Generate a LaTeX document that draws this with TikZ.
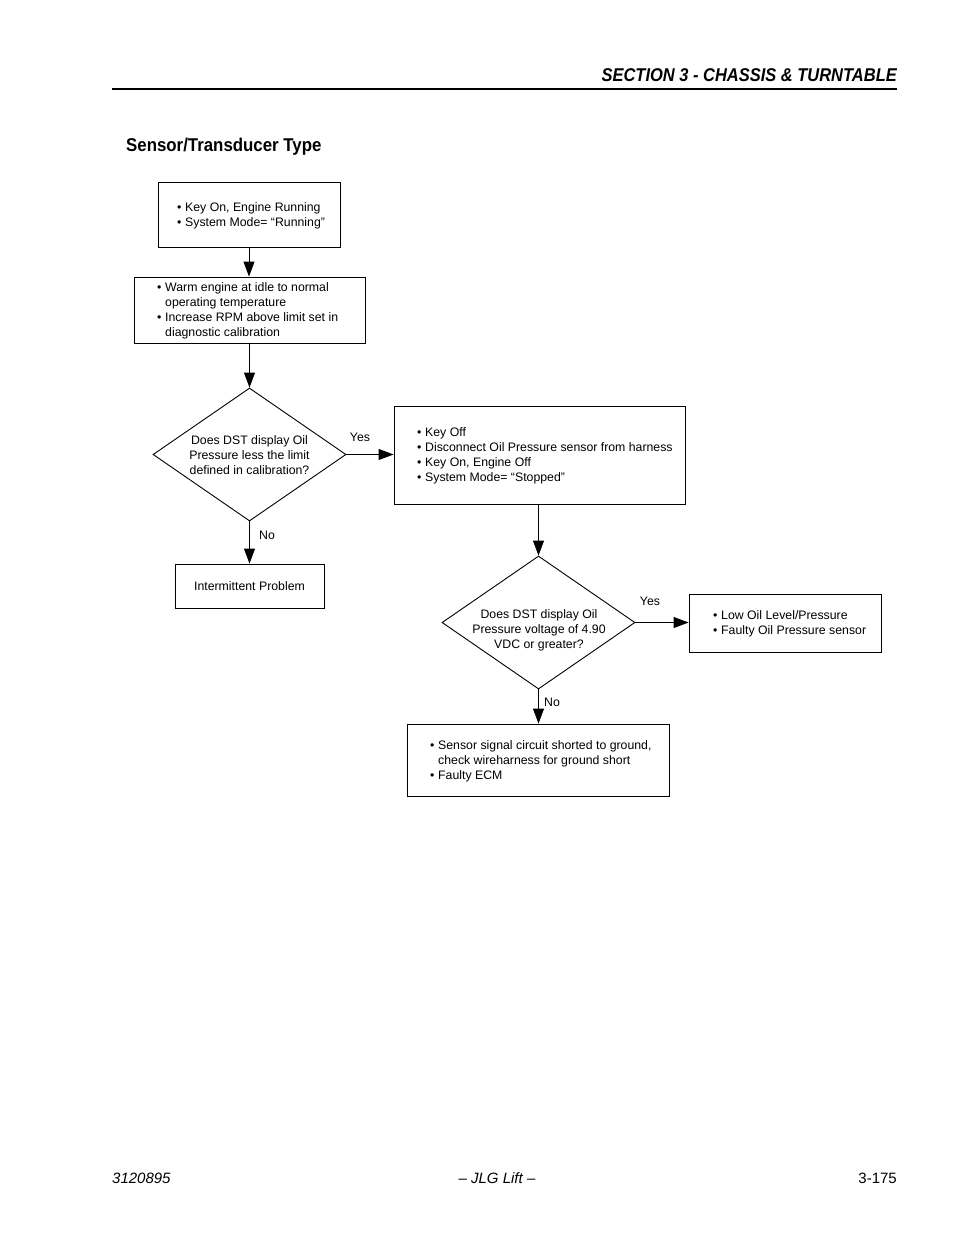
\documentclass[tikz,border=0pt]{standalone}
\usepackage{fontspec}
\setmainfont{Liberation Sans}
\usetikzlibrary{shapes.geometric,arrows.meta}
\newcommand\bul{\makebox[8pt][l]{•}}
\tikzset{
  box/.style={draw,line width=0.9pt,inner sep=0pt,rectangle},
  dia/.style={draw,line width=0.9pt,inner sep=0pt,diamond,minimum width=193pt,minimum height=133pt},
  txt/.style={inner sep=0pt,font=\fontsize{12.3}{15}\selectfont},
  arr/.style={line width=0.9pt,-{Triangle[length=15pt,width=11pt]}},
  lbl/.style={inner sep=0pt,font=\fontsize{12.3}{15}\selectfont}
}
\begin{document}
\begin{tikzpicture}[x=1pt,y=-1pt]
\useasboundingbox[fill=white] (0,0) rectangle (954,1235);
% header
\node[inner sep=0pt,anchor=base east,font=\fontsize{18.5}{22}\selectfont\bfseries\itshape] (hdr) at (897,81) {\scalebox{0.89}[1]{SECTION 3 - CHASSIS \& TURNTABLE}};
\draw[line width=1.2pt] (112,89) -- (897,89);
\node[inner sep=0pt,anchor=base west,font=\fontsize{18.5}{22}\selectfont\bfseries] (title) at (126,151) {\scalebox{0.91}[1]{Sensor/Transducer Type}};
% boxes
\node[box,minimum width=182pt,minimum height=65pt] (b1) at (249,214.5) {};
\node[box,minimum width=231pt,minimum height=66pt] (b2) at (249.5,310) {};
\node[dia] (d1) at (249.5,454.5) {};
\node[box,minimum width=291pt,minimum height=98pt] (b3) at (539.5,455) {};
\node[box,minimum width=149pt,minimum height=44pt] (b4) at (249.5,586) {};
\node[dia] (d2) at (538.5,622.5) {};
\node[box,minimum width=192pt,minimum height=58pt] (b5) at (785,623) {};
\node[box,minimum width=262pt,minimum height=72pt] (b6) at (538,760) {};
% texts
\node[txt,anchor=west] (t1) at (177,215.5) {\begin{tabular}{@{}l@{}l@{}}
\bul & Key On, Engine Running\\
\bul & System Mode= “Running”
\end{tabular}};
\node[txt,anchor=west] (t2) at (157,310.5) {\begin{tabular}{@{}l@{}l@{}}
\bul & Warm engine at idle to normal\\
 & operating temperature\\
\bul & Increase RPM above limit set in\\
 & diagnostic calibration
\end{tabular}};
\node[txt,align=center] (td1) at (249.5,455.5) {Does DST display Oil\\Pressure less the limit\\defined in calibration?};
\node[txt,anchor=west] (t3) at (417,455.5) {\begin{tabular}{@{}l@{}l@{}}
\bul & Key Off\\
\bul & Disconnect Oil Pressure sensor from harness\\
\bul & Key On, Engine Off\\
\bul & System Mode= “Stopped”
\end{tabular}};
\node[txt] (t4) at (249.5,586.5) {Intermittent Problem};
\node[txt,align=center] (td2) at (539,630.5) {Does DST display Oil\\Pressure voltage of 4.90\\VDC or greater?};
\node[txt,anchor=west] (t5) at (713,623.5) {\begin{tabular}{@{}l@{}l@{}}
\bul & Low Oil Level/Pressure\\
\bul & Faulty Oil Pressure sensor
\end{tabular}};
\node[txt,anchor=west] (t6) at (430,761) {\begin{tabular}{@{}l@{}l@{}}
\bul & Sensor signal circuit shorted to ground,\\
 & check wireharness for ground short\\
\bul & Faulty ECM
\end{tabular}};
% labels
\node[lbl] (y1) at (360,437) {Yes};
\node[lbl] (n1) at (267,535) {No};
\node[lbl] (y2) at (650,601) {Yes};
\node[lbl] (n2) at (552,702) {No};
% connectors
\draw[arr] (b1.south) -- (b1.south |- b2.north);
\draw[arr] (b2.south -| d1.north) -- (d1.north);
\draw[arr] (d1.east) -- (d1.east -| b3.west);
\draw[arr] (d1.south) -- (d1.south |- b4.north);
\draw[arr] (d2.north |- b3.south) -- (d2.north);
\draw[arr] (d2.east) -- (d2.east -| b5.west);
\draw[arr] (d2.south) -- (d2.south |- b6.north);
% footer
\node[inner sep=0pt,anchor=base west,font=\fontsize{15}{18}\selectfont\itshape] (f1) at (112,1183) {3120895};
\node[inner sep=0pt,anchor=base,font=\fontsize{15}{18}\selectfont\itshape] (f2) at (497,1183) {– JLG Lift –};
\node[inner sep=0pt,anchor=base east,font=\fontsize{15}{18}\selectfont] (f3) at (897,1183) {3-175};
\end{tikzpicture}
\end{document}
